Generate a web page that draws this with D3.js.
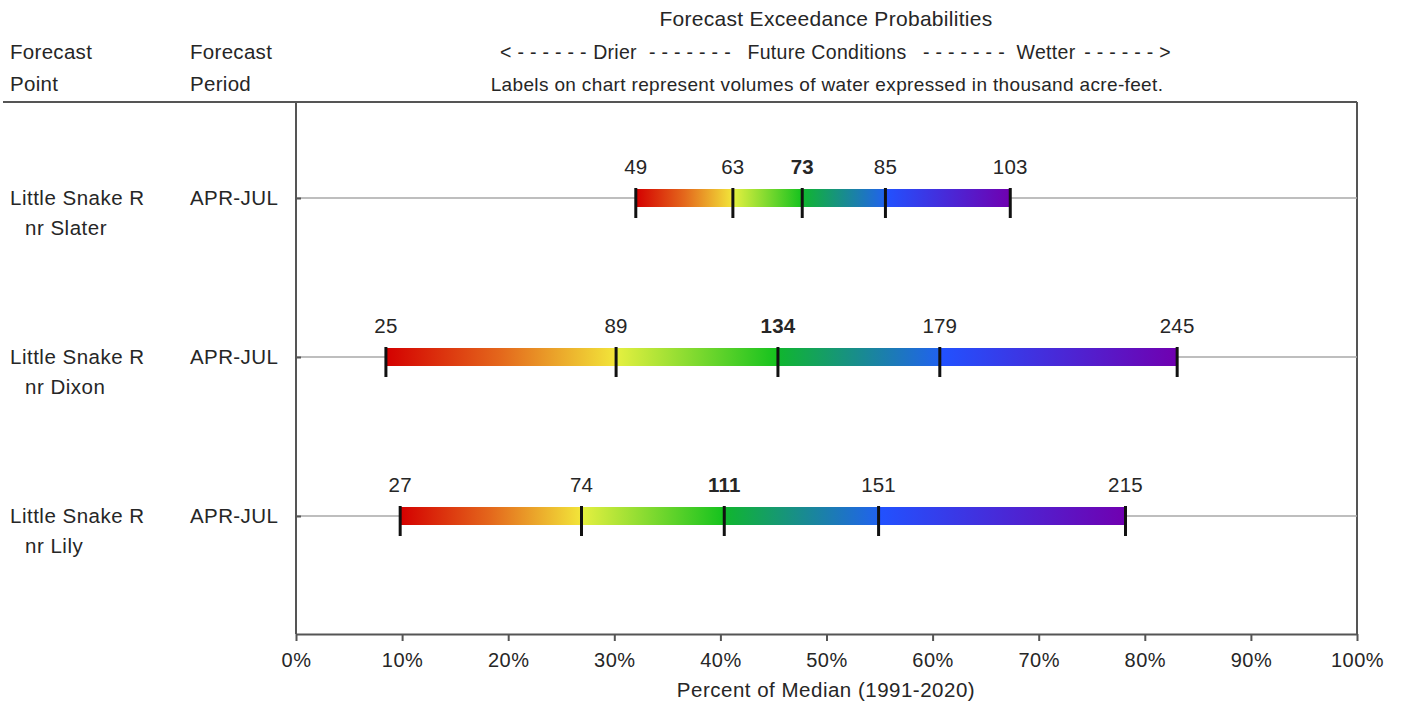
<!DOCTYPE html>
<html>
<head>
<meta charset="utf-8">
<script src="https://cdn.jsdelivr.net/npm/d3@7/dist/d3.min.js"></script>
<style>
  html, body { margin: 0; padding: 0; background: #fff; }
  svg { display: block; font-family: "Liberation Sans", Arial, sans-serif; }
  text { fill: #262626; }
</style>
</head>
<body>
<svg id="chart" width="1403" height="707"></svg>
<script>
// Forecast points (two-line names) and forecast periods
const pointNames = ["Little Snake R", "Little Snake R", "Little Snake R"];
const pointSubNames = ["nr Slater", "nr Dixon", "nr Lily"];
const periods = ["APR-JUL", "APR-JUL", "APR-JUL"];

// Forecast volumes (thousand acre-feet) at 90/70/50/30/10 % exceedance
const q90 = [49, 25, 27];
const q70 = [63, 89, 74];
const q50 = [73, 134, 111];
const q30 = [85, 179, 151];
const q10 = [103, 245, 215];

// 1991-2020 median volumes (thousand acre-feet)
const medians = [153, 295, 275];

// Percent-of-median axis ticks
const xTicks = [0, 10, 20, 30, 40, 50, 60, 70, 80, 90, 100];

// Colour ramps for the four segments between exceedance levels
const segmentColors = [
  ["#d40000", "#e4681c", "#f2e63a"],
  ["#e6f040", "#14c21e"],
  ["#10b62e", "#2162ee"],
  ["#2152ff", "#7000b0"]
];

const svg = d3.select("#chart");
const plotL = 296, plotR = 1357, plotT = 102, plotB = 634;

const x = d3.scaleLinear().domain([0, 100]).range([plotL, plotR]);
const rowIdx = d3.range(pointNames.length);
const y = d3.scalePoint().domain(rowIdx).range([198, 516]);

// text helper: size in px plus a little tracking
function label(sel, size, track) {
  return sel.style("font-size", size + "px").style("letter-spacing", track + "px");
}

// header text
label(svg.append("text").attr("x", 826).attr("y", 26).attr("text-anchor", "middle"), 21, 0.3)
  .text("Forecast Exceedance Probabilities");

const hdr = [
  { x: 500, anchor: "start", t: "< - - - - - -" },
  { x: 615, anchor: "middle", t: "Drier" },
  { x: 690, anchor: "middle", t: "- - - - - - -" },
  { x: 827, anchor: "middle", t: "Future Conditions" },
  { x: 964, anchor: "middle", t: "- - - - - - -" },
  { x: 1046, anchor: "middle", t: "Wetter" },
  { x: 1171, anchor: "end", t: "- - - - - - >" }
];
label(svg.selectAll("text.hdr").data(hdr).join("text").attr("class", "hdr")
  .attr("x", d => d.x).attr("y", 59).attr("text-anchor", d => d.anchor), 19.5, 0.3)
  .text(d => d.t);

label(svg.append("text").attr("x", 827).attr("y", 91).attr("text-anchor", "middle"), 19, 0.35)
  .text("Labels on chart represent volumes of water expressed in thousand acre-feet.");

[["Forecast", 10, 59], ["Point", 10, 91], ["Forecast", 190, 59], ["Period", 190, 91]]
  .forEach(([t, tx, ty]) => label(svg.append("text").attr("x", tx).attr("y", ty), 20.5, 0.3).text(t));

// frame
svg.append("line").attr("x1", 3).attr("x2", plotR).attr("y1", plotT).attr("y2", plotT)
  .attr("stroke", "#555").attr("stroke-width", 2);
svg.append("line").attr("x1", plotR).attr("x2", plotR).attr("y1", plotT).attr("y2", plotB)
  .attr("stroke", "#555").attr("stroke-width", 2);

// row guide lines
svg.selectAll("line.row").data(rowIdx).join("line").attr("class", "row")
  .attr("x1", plotL).attr("x2", plotR).attr("y1", d => y(d)).attr("y2", d => y(d))
  .attr("stroke", "#a8a8a8").attr("stroke-width", 1.5);

// y axis (no labels)
const yAxis = svg.append("g").attr("transform", `translate(${plotL},0)`)
  .call(d3.axisLeft(y).tickSize(-5).tickFormat(""));
yAxis.select(".domain").attr("d", `M0,${plotT}V${plotB}`).attr("stroke", "#555").attr("stroke-width", 2);
yAxis.selectAll(".tick line").attr("stroke", "#555").attr("stroke-width", 2);

// x axis
const xAxis = svg.append("g").attr("transform", `translate(0,${plotB})`)
  .call(d3.axisBottom(x).tickValues(xTicks).tickFormat(d => d + "%").tickSize(7).tickSizeOuter(0));
xAxis.select(".domain").attr("stroke", "#555").attr("stroke-width", 2);
xAxis.selectAll(".tick line").attr("stroke", "#555").attr("stroke-width", 2);
label(xAxis.selectAll(".tick text").attr("y", 33).attr("dy", 0), 20, 0.5)
  .style("font-family", "Liberation Sans, Arial, sans-serif")
  .attr("fill", "#262626");

label(svg.append("text").attr("x", 826).attr("y", 697).attr("text-anchor", "middle"), 20.5, 0.5)
  .text("Percent of Median (1991-2020)");

// row labels
rowIdx.forEach(i => {
  label(svg.append("text").attr("x", 10).attr("y", y(i) + 7), 20.5, 0.5).text(pointNames[i]);
  label(svg.append("text").attr("x", 25).attr("y", y(i) + 37), 20.5, 0.5).text(pointSubNames[i]);
  label(svg.append("text").attr("x", 190).attr("y", y(i) + 7), 20.5, 0.4).text(periods[i]);
});

// bars
const defs = svg.append("defs");
rowIdx.forEach(i => {
  const vols = [q90[i], q70[i], q50[i], q30[i], q10[i]];
  const pct = vols.map(v => v / medians[i] * 100);
  const g = svg.append("g");
  for (let s = 0; s < 4; s++) {
    const x0 = x(pct[s]), x1 = x(pct[s + 1]);
    const id = `grad-${i}-${s}`;
    const grad = defs.append("linearGradient").attr("id", id)
      .attr("gradientUnits", "userSpaceOnUse")
      .attr("x1", x0).attr("x2", x1).attr("y1", 0).attr("y2", 0);
    const cols = segmentColors[s];
    cols.forEach((c, k) => grad.append("stop")
      .attr("offset", k / (cols.length - 1)).attr("stop-color", c));
    g.append("rect").attr("x", x0).attr("width", x1 - x0)
      .attr("y", y(i) - 9).attr("height", 18).attr("fill", `url(#${id})`);
  }
  g.selectAll("line.mark").data(pct).join("line").attr("class", "mark")
    .attr("x1", d => x(d)).attr("x2", d => x(d))
    .attr("y1", y(i) - 10).attr("y2", y(i) + 20)
    .attr("stroke", "#111").attr("stroke-width", 3);
  label(g.selectAll("text.val").data(vols).join("text").attr("class", "val")
    .attr("x", (d, k) => x(pct[k])).attr("y", y(i) - 24).attr("text-anchor", "middle"), 20.5, 0.2)
    .style("font-weight", (d, k) => k === 2 ? "bold" : "normal")
    .text(d => d);
});
</script>
</body>
</html>
